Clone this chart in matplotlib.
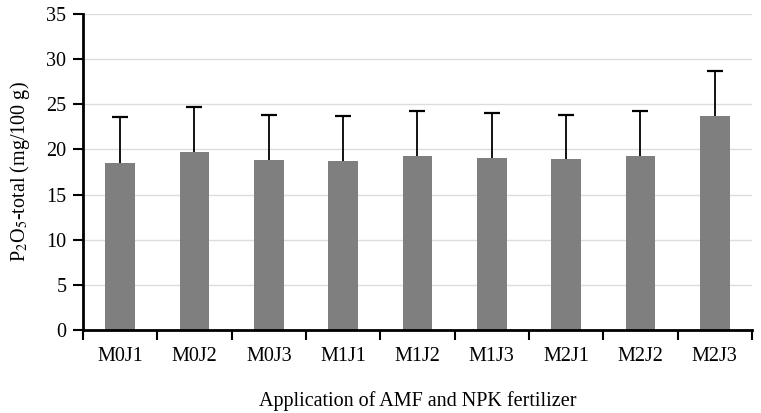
import numpy as np
import matplotlib.pyplot as plt
from matplotlib.ticker import MultipleLocator, FixedLocator

# Data
treatments = ['M0J1', 'M0J2', 'M0J3', 'M1J1', 'M1J2', 'M1J3', 'M2J1', 'M2J2', 'M2J3']
p2o5_total = [18.55, 19.7, 18.8, 18.7, 19.3, 19.05, 18.9, 19.25, 23.7]
p2o5_err = [5.0, 5.0, 5.0, 5.0, 5.0, 5.0, 4.95, 5.0, 5.0]

plt.rcParams['font.family'] = ['Liberation Serif', 'DejaVu Serif']
plt.rcParams['mathtext.fontset'] = 'stix'

fig = plt.figure(figsize=(7.61, 4.13), dpi=100)
ax = fig.add_axes([0.109, 0.201, 0.879, 0.765])

x = np.arange(len(treatments))
tops = np.array(p2o5_total) + np.array(p2o5_err)
ax.bar(x, p2o5_total, width=0.4, color='#7f7f7f', zorder=2)
# only upper error bars with a cap at the top
ax.vlines(x, p2o5_total, tops, color='black', linewidth=1.3, zorder=3)
ax.plot(x, tops, linestyle='none', marker='_', markersize=12,
        markeredgewidth=1.6, color='black', zorder=3)

ax.set_xlim(-0.5, len(treatments) - 0.5)
ax.set_ylim(0, 35)
ax.yaxis.set_major_locator(MultipleLocator(5))
ax.grid(axis='y', color='#dcdcdc', linewidth=1, zorder=0)

# labels at the centres, tick marks between categories
ax.set_xticks(x)
ax.set_xticklabels(treatments)
ax.xaxis.set_minor_locator(FixedLocator(np.arange(-0.5, len(treatments), 1)))
ax.tick_params(axis='x', which='major', length=0, labelsize=14.5, pad=12)
ax.tick_params(axis='x', which='minor', length=7, width=1.5, direction='out')
ax.tick_params(axis='y', length=7, width=1.5, direction='out', labelsize=14.5, pad=5)

for s in ['top', 'right']:
    ax.spines[s].set_visible(False)
for s in ['left', 'bottom']:
    ax.spines[s].set_linewidth(2)

ax.set_ylabel(r'P$_2$O$_5$-total (mg/100 g)', fontsize=14.5, labelpad=10)
ax.set_xlabel('Application of AMF and NPK fertilizer', fontsize=14.5, labelpad=18)

fig.savefig('out.png', dpi=100)
